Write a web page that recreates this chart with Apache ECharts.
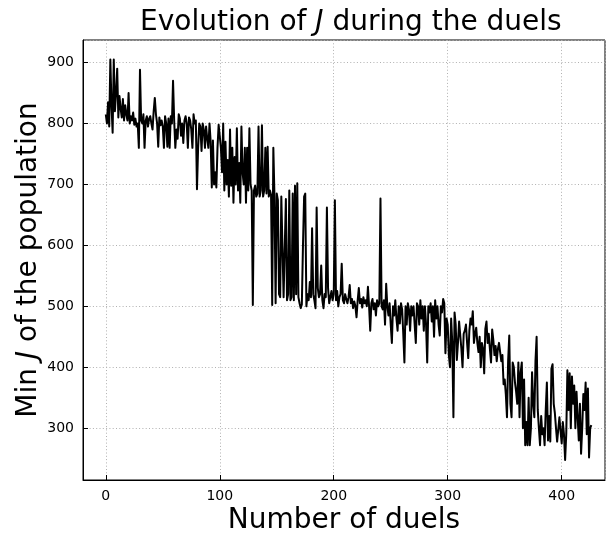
<!DOCTYPE html>
<html><head><meta charset="utf-8">
<script src="https://cdn.jsdelivr.net/npm/echarts@6/dist/echarts.min.js"></script>
<style>html,body{margin:0;padding:0;background:#fff}#c{width:606px;height:535px}</style>
</head><body><div id="c"></div>
<script>
// Min J of the population after each duel (duel index = position)
const minJ = [
 815, 800, 835, 795, 905, 830, 785, 905, 820, 850,
 890, 810, 845, 825, 810, 840, 805, 830, 815, 805,
 850, 800, 812, 805, 818, 798, 808, 795, 800, 760,
 888, 805, 800, 815, 760, 805, 812, 795, 808, 812,
 800, 790, 820, 842, 815, 800, 762, 810, 797, 805,
 795, 760, 812, 800, 762, 808, 760, 812, 800, 870,
 805, 760, 790, 775, 815, 808, 780, 800, 768, 805,
 812, 800, 760, 810, 805, 790, 760, 815, 800, 805,
 692, 760, 800, 795, 755, 800, 790, 760, 795, 775,
 760, 800, 770, 695, 772, 700, 720, 695, 760, 798,
 795, 760, 720, 800, 690, 770, 700, 740, 680, 790,
 698, 760, 670, 745, 700, 792, 690, 735, 670, 795,
 720, 700, 760, 670, 760, 690, 792, 700, 690, 502,
 690, 698, 680, 685, 795, 680, 690, 797, 680, 690,
 760, 685, 762, 680, 690, 683, 502, 760, 680, 505,
 685, 674, 520, 515, 680, 677, 515, 515, 676, 510,
 520, 690, 510, 515, 685, 510, 698, 520, 702, 515,
 505, 497, 503, 600, 680, 685, 500, 520, 510, 540,
 515, 628, 520, 510, 497, 662, 530, 515, 520, 567,
 510, 497, 520, 515, 662, 530, 505, 515, 525, 510,
 520, 674, 510, 525, 500, 515, 520, 570, 510, 505,
 520, 512, 505, 515, 535, 505, 512, 497, 508, 500,
 482, 510, 530, 505, 512, 498, 515, 505, 510, 500,
 532, 500, 460, 505, 512, 495, 505, 485, 510, 500,
 505, 677, 500, 495, 510, 470, 537, 500, 485, 505,
 470, 440, 500, 485, 510, 480, 460, 500, 472, 505,
 495, 455, 408, 500, 470, 505, 495, 460, 500, 485,
 500, 470, 440, 505, 500, 470, 510, 480, 500, 460,
 500, 470, 408, 500, 490, 505, 475, 500, 450, 510,
 480, 500, 470, 452, 500, 490, 512, 505, 423, 480,
 470, 420, 400, 480, 440, 318, 490, 470, 412, 440,
 475, 472, 430, 400, 455, 460, 470, 440, 415, 460,
 480, 470, 492, 440, 455, 465, 440, 425, 450, 400,
 440, 430, 390, 463, 475, 440, 455, 430, 408, 462,
 445, 420, 435, 410, 430, 440, 425, 410, 420, 372,
 380, 355, 318, 410, 452, 340, 318, 408, 400, 375,
 360, 340, 408, 318, 392, 408, 300, 380, 272, 310,
 272, 350, 272, 300, 392, 340, 318, 410, 450, 330,
 300, 272, 320, 290, 300, 272, 330, 375, 280, 320,
 278, 398, 405, 340, 325, 300, 278, 275, 318, 295,
 275, 310, 290, 248, 290, 395, 330, 390, 300, 385,
 340, 370, 300, 360, 318, 280, 340, 258, 300, 356,
 330, 375, 290, 365, 252, 300, 305
];
const titleText = 'Evolution of {i|J} during the duels';
const xName = 'Number of duels';
const yName = 'Min {i|J} of the population';

const FONT = '"DejaVu Sans", sans-serif';
const points = minJ.map((v, i) => [i, v]);
const italic = { i: { fontFamily: FONT, fontSize: 28, fontStyle: 'italic', color: '#000' } };
const grid = { color: '#b0b0b0', type: [1, 2.3], width: 1 };

const chart = echarts.init(document.getElementById('c'), null, { renderer: 'canvas' });
chart.setOption({
  animation: false,
  backgroundColor: '#fff',
  title: {
    text: titleText, left: 135, top: 4,
    textStyle: { fontFamily: FONT, fontSize: 28, fontWeight: 'normal', color: '#000', rich: italic }
  },
  grid: { left: 83, top: 40, right: 1, bottom: 55, show: true, borderColor: '#000', borderWidth: 1,
          containLabel: false, outerBoundsMode: 'none' },
  xAxis: {
    type: 'value', min: -20, max: 438,
    name: xName, nameLocation: 'middle', nameGap: 27, nameMoveOverlap: false,
    nameTextStyle: { fontFamily: FONT, fontSize: 28, color: '#000' },
    axisLine: { show: true, onZero: false, lineStyle: { color: '#000', width: 1 } },
    axisTick: { show: true, inside: true, length: 5, lineStyle: { color: '#000', width: 1 } },
    axisLabel: { showMinLabel: false, showMaxLabel: false, fontFamily: FONT, fontSize: 14, color: '#000', margin: 9 },
    splitLine: { show: true, lineStyle: grid }
  },
  yAxis: {
    type: 'value', min: 215, max: 937,
    name: yName, nameLocation: 'middle', nameGap: 40, nameRotate: 90, nameMoveOverlap: false,
    nameTextStyle: { fontFamily: FONT, fontSize: 28, color: '#000', rich: italic },
    axisLine: { show: true, onZero: false, lineStyle: { color: '#000', width: 1 } },
    axisTick: { show: true, inside: true, length: 5, lineStyle: { color: '#000', width: 1 } },
    axisLabel: { showMinLabel: false, showMaxLabel: false, fontFamily: FONT, fontSize: 14, color: '#000', margin: 9 },
    splitLine: { show: true, lineStyle: grid }
  },
  series: [{
    type: 'line', data: points, showSymbol: false, symbol: 'none',
    lineStyle: { color: '#000', width: 2, join: 'round' }, clip: true
  }]
});
</script></body></html>
